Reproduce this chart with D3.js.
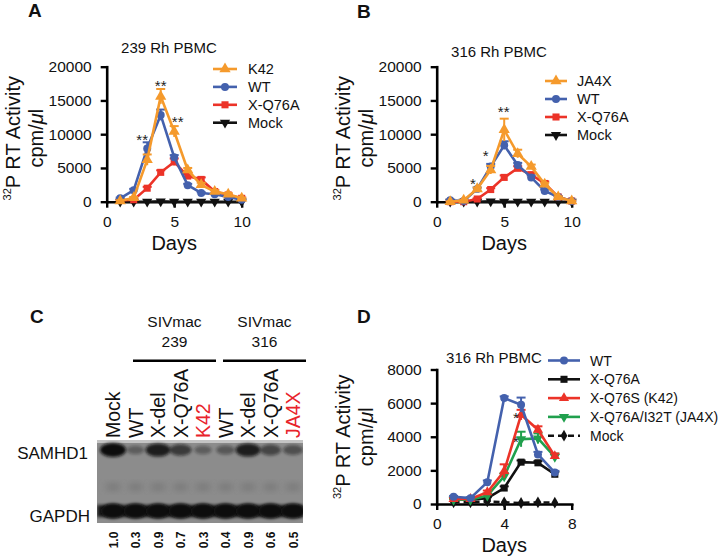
<!DOCTYPE html>
<html><head><meta charset="utf-8">
<script src="https://cdn.jsdelivr.net/npm/d3@7/dist/d3.min.js"></script>
<style>body{margin:0;background:#fff} svg{display:block;font-family:"Liberation Sans",Arial,Helvetica,sans-serif}</style>
</head><body><svg id="c" width="727" height="557"></svg>
<script>
// ---------------- data ----------------
const daysAB = [1,2,3,4,5,6,7,8,9,10];
const daysD = [1,2,3,4,5,6,7];
const xTicksAB = [0,5,10];
const yTicksAB = [0,5000,10000,15000,20000];
const xTicksD = [0,4,8];
const yTicksD = [0,2000,4000,6000,8000];

// Panel A: 239 Rh PBMC
const aK42    = [100, 600, 6200, 15600, 10400, 4700, 2500, 1500, 1100, 500];
const aK42Err = [100, 100, 800, 1100, 800, 300, 300, 200, 200, 100];
const aWT     = [500, 1700, 7900, 12850, 6600, 2450, 1300, 1100, 700, 300];
const aWTErr  = [100, 200, 900, 800, 300, 200, 100, 100, 100, 100];
const aXQ76A  = [200, 300, 2000, 4350, 5900, 3800, 3300, 1500, 1000, 500];
const aXQ76AErr = [50, 100, 200, 300, 500, 300, 300, 200, 100, 100];
const aMock   = [0, 0, 0, 50, 0, 0, 0, 0, 0, 0];
const aStars  = [{day:2.63, v:9630, t:"**"}, {day:4.0, v:17730, t:"**"}, {day:5.26, v:12400, t:"**"}];

// Panel B: 316 Rh PBMC
const bJA4X   = [0, 200, 1900, 4700, 10650, 7100, 5200, 2600, 700, 100];
const bJA4XErr= [50, 50, 200, 600, 1650, 600, 300, 200, 100, 50];
const bWT     = [200, 100, 1900, 5200, 8350, 5450, 3600, 1600, 700, 100];
const bWTErr  = [50, 50, 200, 400, 600, 300, 300, 200, 100, 50];
const bXQ76A  = [0, 0, 400, 1800, 3600, 4950, 4000, 2700, 700, 100];
const bXQ76AErr = [50, 50, 100, 200, 300, 300, 300, 300, 100, 50];
const bMock   = [0, 0, 0, 50, 0, 0, 0, 0, 0, 0];
const bStars  = [{day:2.69, v:3215, t:"*"}, {day:3.63, v:7260, t:"*"}, {day:4.96, v:13830, t:"**"}];

// Panel D: 316 Rh PBMC
const dWT     = [430, 350, 1300, 6300, 5900, 2950, 1870];
const dWTErr  = [50, 50, 100, 100, 430, 150, 100];
const dXQ76A  = [300, 250, 350, 950, 2490, 2450, 1770];
const dXQ76AErr = [50, 50, 50, 100, 100, 100, 150];
const dK42    = [300, 300, 700, 1960, 5300, 4420, 2850];
const dK42Err = [50, 50, 100, 400, 300, 200, 150];
const dJA4X   = [250, 250, 500, 1650, 3850, 3900, 2800];
const dJA4XErr= [50, 50, 100, 200, 450, 300, 200];
const dMock   = [100, 100, 150, 100, 60, 100, 80];
const dStars  = [{day:4.69, v:5306, t:"*"}, {day:4.69, v:3930, t:"*"}];

// Panel C: western blot
const lanes     = ["Mock","WT","X-del","X-Q76A","K42","WT","X-del","X-Q76A","JA4X"];
const laneHighlight = [false,false,false,false,true,false,false,false,true];
const samhd1Ratio = [1.0, 0.3, 0.9, 0.7, 0.3, 0.4, 0.9, 0.6, 0.5];
const strains = [{name:"SIVmac", num:"239", from:1, to:4}, {name:"SIVmac", num:"316", from:5, to:8}];

// ---------------- style ----------------
const C = {orange:"#f59a2c", blue:"#4461ad", red:"#ec3328", black:"#111", green:"#20a04d", hi:"#e8232b"};
const svg = d3.select("#c");

function panel(cfg){
  const g = svg.append("g");
  const x = d3.scaleLinear().domain(cfg.xDomain).range(cfg.xRange);
  const y = d3.scaleLinear().domain(cfg.yDomain).range(cfg.yRange);
  // axes
  const xa = g.append("g").attr("transform",`translate(0,${cfg.yRange[0]})`)
    .call(d3.axisBottom(x).tickValues(cfg.xTicks).tickSize(6).tickPadding(8).tickSizeOuter(0).tickFormat(d3.format("d")));
  const ya = g.append("g").attr("transform",`translate(${cfg.xRange[0]},0)`)
    .call(d3.axisLeft(y).tickValues(cfg.yTicks).tickSize(6).tickPadding(9).tickSizeOuter(0).tickFormat(d3.format("d")));
  [xa,ya].forEach(a=>{
    a.select(".domain").attr("stroke","#000").attr("stroke-width",2.6).attr("stroke-linecap","square");
    a.selectAll(".tick line").attr("stroke","#000").attr("stroke-width",2.4);
    a.selectAll(".tick text").attr("fill","#111").style("font-size","15.5px").style("font-family","Liberation Sans, Arial, sans-serif");
  });
  // series
  cfg.series.forEach(s=>{
    const sg = g.append("g");
    if (s.err){
      s.vals.forEach((v,i)=>{
        const e = s.err[i], cx = x(cfg.days[i]);
        const yt = y(v+e), yb = y(Math.max(0,v-e));
        sg.append("line").attr("x1",cx).attr("x2",cx).attr("y1",yt).attr("y2",yb).attr("stroke",s.color).attr("stroke-width",2);
        sg.append("line").attr("x1",cx-4.5).attr("x2",cx+4.5).attr("y1",yt).attr("y2",yt).attr("stroke",s.color).attr("stroke-width",2);
      });
    }
    sg.append("path").datum(s.vals)
      .attr("d", d3.line().x((v,i)=>x(cfg.days[i])).y(v=>y(v)))
      .attr("fill","none").attr("stroke",s.color).attr("stroke-width",2.6)
      .attr("stroke-dasharray", s.dash||null);
    sg.selectAll("path.m").data(s.vals).join("path").attr("class","m")
      .attr("transform",(v,i)=>`translate(${x(cfg.days[i])},${y(v)}) rotate(${s.rot||0})`)
      .attr("d", d3.symbol(s.sym, s.size||52)()).attr("fill",s.color);
  });
  // stars
  cfg.stars.forEach(st=>{
    g.append("text").attr("x",x(st.day)).attr("y",y(st.v)+8.6).attr("text-anchor","middle")
      .style("font-size","15px").attr("fill","#222").text(st.t);
  });
  // title
  g.append("text").attr("x",cfg.title[1]).attr("y",cfg.title[2]).attr("text-anchor","middle")
    .style("font-size","15px").attr("fill","#111").text(cfg.title[0]);
  // axis titles
  const cy = (cfg.yRange[0]+cfg.yRange[1])/2 + cfg.yTitleShift;
  const t1 = g.append("text").attr("transform",`translate(${cfg.xRange[0]-94},${cy}) rotate(-90)`)
    .attr("text-anchor","middle").attr("dominant-baseline","central").style("font-size","20px").attr("fill","#111");
  t1.append("tspan").text("32").style("font-size","11px").attr("dy",-5.5);
  t1.append("tspan").text("P RT Activity").attr("dy",5.5);
  const t2 = g.append("text").attr("transform",`translate(${cfg.xRange[0]-71},${cy}) rotate(-90)`)
    .attr("text-anchor","middle").attr("dominant-baseline","central").style("font-size","20px").attr("fill","#111");
  t2.append("tspan").text("cpm/");
  t2.append("tspan").text("μ").style("font-style","italic");
  t2.append("tspan").text("l");
  g.append("text").attr("x",(cfg.xRange[0]+cfg.xRange[1])/2).attr("y",cfg.yRange[0]+48)
    .attr("text-anchor","middle").style("font-size","20px").attr("fill","#111").text("Days");
  // legend
  const L = cfg.legend;
  cfg.legendOrder.forEach((s,i)=>{
    const ly = L.y0 + i*L.dy;
    g.append("line").attr("x1",L.x1).attr("x2",L.x2).attr("y1",ly).attr("y2",ly)
      .attr("stroke",s.color).attr("stroke-width",2.6).attr("stroke-dasharray", s.dash||null);
    g.append("path").attr("transform",`translate(${(L.x1+L.x2)/2},${ly}) rotate(${s.rot||0})`)
      .attr("d", d3.symbol(s.sym, s.size||52)()).attr("fill",s.color);
    g.append("text").attr("x",L.tx).attr("y",ly).attr("dominant-baseline","central")
      .style("font-size",L.fs+"px").attr("fill","#111").text(s.name);
  });
}

function letter(t,x,y){ svg.append("text").attr("x",x).attr("y",y).style("font-size","19px").style("font-weight","bold").attr("fill","#111").text(t); }

// Panel A
const sA = {
  K42:{name:"K42",vals:aK42,err:aK42Err,color:C.orange,sym:d3.symbolTriangle,size:55},
  WT:{name:"WT",vals:aWT,err:aWTErr,color:C.blue,sym:d3.symbolCircle,size:50},
  XQ:{name:"X-Q76A",vals:aXQ76A,err:aXQ76AErr,color:C.red,sym:d3.symbolSquare,size:50},
  M:{name:"Mock",vals:aMock,color:C.black,sym:d3.symbolTriangle,rot:180,size:45}
};
panel({xDomain:[0,10],yDomain:[0,20000],xRange:[106.7,241.7],yRange:[201.7,66.7],
  xTicks:xTicksAB,yTicks:yTicksAB,days:daysAB,
  series:[sA.M,sA.XQ,sA.WT,sA.K42],legendOrder:[sA.K42,sA.WT,sA.XQ,sA.M],
  legend:{x1:213,x2:237,tx:248,y0:69,dy:17.9,fs:14.5},
  stars:aStars,title:["239 Rh PBMC",169,53.3],yTitleShift:4});

// Panel B
const sB = {
  J:{name:"JA4X",vals:bJA4X,err:bJA4XErr,color:C.orange,sym:d3.symbolTriangle,size:55},
  WT:{name:"WT",vals:bWT,err:bWTErr,color:C.blue,sym:d3.symbolCircle,size:50},
  XQ:{name:"X-Q76A",vals:bXQ76A,err:bXQ76AErr,color:C.red,sym:d3.symbolSquare,size:50},
  M:{name:"Mock",vals:bMock,color:C.black,sym:d3.symbolTriangle,rot:180,size:45}
};
panel({xDomain:[0,10],yDomain:[0,20000],xRange:[436.7,571.7],yRange:[201.7,66.7],
  xTicks:xTicksAB,yTicks:yTicksAB,days:daysAB,
  series:[sB.M,sB.XQ,sB.WT,sB.J],legendOrder:[sB.J,sB.WT,sB.XQ,sB.M],
  legend:{x1:545,x2:567,tx:577,y0:81,dy:18,fs:14.5},
  stars:bStars,title:["316 Rh PBMC",499,56.7],yTitleShift:4});

// Panel D
const sD = {
  WT:{name:"WT",vals:dWT,err:dWTErr,color:C.blue,sym:d3.symbolCircle,size:50},
  XQ:{name:"X-Q76A",vals:dXQ76A,err:dXQ76AErr,color:C.black,sym:d3.symbolSquare,size:50},
  K:{name:"X-Q76S (K42)",vals:dK42,err:dK42Err,color:C.red,sym:d3.symbolTriangle,size:45},
  J:{name:"X-Q76A/I32T (JA4X)",vals:dJA4X,err:dJA4XErr,color:C.green,sym:d3.symbolTriangle,rot:180,size:45},
  M:{name:"Mock",vals:dMock,color:C.black,sym:d3.symbolDiamond,size:40,dash:"6,4"}
};
panel({xDomain:[0,8],yDomain:[0,8000],xRange:[436.7,571.7],yRange:[504,369.5],
  xTicks:xTicksD,yTicks:yTicksD,days:daysD,
  series:[sD.M,sD.XQ,sD.J,sD.K,sD.WT],legendOrder:[sD.WT,sD.XQ,sD.K,sD.J,sD.M],
  legend:{x1:548,x2:580,tx:590,y0:360.5,dy:18.8,fs:14},
  stars:dStars,title:["316 Rh PBMC",494,363],yTitleShift:0});

letter("A",28,17); letter("B",357,18); letter("C",30,323); letter("D",357,323);

// Panel C: blot
const lx = d3.scalePoint().domain(d3.range(lanes.length)).range([113,293]);
const gc = svg.append("g");
strains.forEach(s=>{
  const x1 = lx(s.from)-2.5, x2 = lx(s.to)+13;
  gc.append("line").attr("x1",x1).attr("x2",x2).attr("y1",360.7).attr("y2",360.7).attr("stroke","#000").attr("stroke-width",2.6);
  gc.append("text").attr("x",(x1+x2)/2).attr("y",326.5).attr("text-anchor","middle").style("font-size","15.5px").attr("fill","#111").text(s.name);
  gc.append("text").attr("x",(x1+x2)/2).attr("y",347).attr("text-anchor","middle").style("font-size","15.5px").attr("fill","#111").text(s.num);
});
lanes.forEach((l,i)=>{
  gc.append("text").attr("transform",`translate(${lx(i)},438) rotate(-90)`)
    .attr("dominant-baseline","central").style("font-size","19.5px")
    .attr("fill", laneHighlight[i]?C.hi:"#111").text(l);
  gc.append("text").attr("transform",`translate(${lx(i)+0.5},540) rotate(-90)`)
    .attr("text-anchor","middle").attr("dominant-baseline","central")
    .style("font-size","12px").style("font-weight","bold").attr("fill","#111").text(samhd1Ratio[i].toFixed(1));
});
const defs = svg.append("defs");
defs.append("filter").attr("id","blur").attr("x","-50%").attr("y","-50%").attr("width","200%").attr("height","200%")
  .append("feGaussianBlur").attr("stdDeviation",1.8);
defs.append("filter").attr("id","blur2").attr("x","-50%").attr("y","-50%").attr("width","200%").attr("height","200%")
  .append("feGaussianBlur").attr("stdDeviation",3);
defs.append("clipPath").attr("id","blotclip").append("rect").attr("x",97).attr("y",440).attr("width",206).attr("height",83);
const bg = gc.append("g").attr("clip-path","url(#blotclip)");
bg.append("rect").attr("x",97).attr("y",440).attr("width",206).attr("height",83).attr("fill","#8c8c8c");
bg.append("rect").attr("x",97).attr("y",440).attr("width",206).attr("height",3).attr("fill","#c4c4c4");
// faint smudges
lanes.forEach((l,i)=>{
  bg.append("ellipse").attr("cx",lx(i)).attr("cy",487).attr("rx",8).attr("ry",4).attr("fill","#7a7a7a").attr("filter","url(#blur2)");
});
// SAMHD1 bands
samhd1Ratio.forEach((r,i)=>{
  bg.append("ellipse").attr("cx",lx(i)).attr("cy",450).attr("rx",7+6*r).attr("ry",3+4*r)
    .attr("fill","#0d0d0d").attr("opacity",0.3+0.7*r*r).attr("filter","url(#blur)");
});
// GAPDH bands
bg.append("rect").attr("x",97).attr("y",505).attr("width",206).attr("height",12).attr("fill","#1a1a1a").attr("filter","url(#blur)");
lanes.forEach((l,i)=>{
  bg.append("ellipse").attr("cx",lx(i)).attr("cy",511).attr("rx",12).attr("ry",7.5).attr("fill","#0b0b0b").attr("filter","url(#blur)");
});
gc.append("text").attr("x",88).attr("y",453).attr("text-anchor","end").attr("dominant-baseline","central").style("font-size","17px").attr("fill","#111").text("SAMHD1");
gc.append("text").attr("x",90).attr("y",516).attr("text-anchor","end").attr("dominant-baseline","central").style("font-size","17px").attr("fill","#111").text("GAPDH");
</script></body></html>
